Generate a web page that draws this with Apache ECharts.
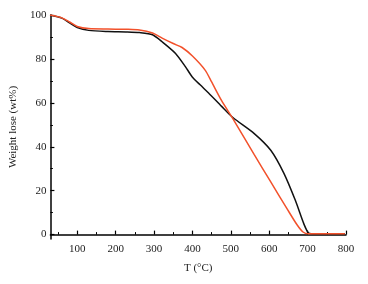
<!DOCTYPE html>
<html>
<head>
<meta charset="utf-8">
<script src="https://cdn.jsdelivr.net/npm/echarts@6/dist/echarts.min.js"></script>
<style>html,body{margin:0;padding:0;background:#fff;}#c{width:368px;height:284px;}</style>
</head>
<body>
<div id="c"></div>
<script>
var xMajorTicks = [100, 200, 300, 400, 500, 600, 700, 800];
var xMinorTicks = [50, 150, 250, 350, 450, 550, 650, 750];
var yMajorTicks = [0, 20, 40, 60, 80, 100];
var yMinorTicks = [10, 30, 50, 70, 90];

var blackT = [29, 60, 80, 100, 130, 180, 230, 262, 296, 321, 356, 382, 399, 420, 442, 476, 506, 561, 604, 638, 668, 690, 703, 720, 797];
var blackW = [100, 98.6, 96.4, 94.3, 93.0, 92.5, 92.3, 92.0, 91.0, 87.8, 82.5, 76.4, 71.9, 68.2, 64.5, 58.4, 53.2, 46.0, 38.4, 28.0, 15.6, 5.0, 0.7, 0.4, 0.4];

var redT = [29, 60, 80, 100, 130, 180, 230, 262, 296, 321, 350, 373, 400, 433, 450, 476, 506, 561, 604, 647, 672, 688, 702, 720, 797];
var redW = [100, 98.7, 96.8, 94.8, 93.8, 93.6, 93.5, 93.2, 91.8, 89.5, 87.0, 85.2, 81.3, 74.9, 69.5, 61.0, 52.6, 36.4, 24.0, 11.6, 4.6, 1.2, 0.4, 0.4, 0.4];

function pairs(xs, ys) { return xs.map(function (x, i) { return [x, ys[i]]; }); }

var font = 'Liberation Serif';
var chart = echarts.init(document.getElementById('c'));
chart.setOption({
  animation: false,
  grid: { left: 46, right: 22, top: 15, bottom: 45 },
  xAxis: [{
    type: 'value', min: 30, max: 800,
    name: 'T (\u00B0C)', nameLocation: 'middle', nameGap: 24,
    nameTextStyle: { fontFamily: font, fontSize: 11, color: '#222' },
    axisLine: { lineStyle: { color: '#000', width: 1.5 } },
    axisTick: { inside: true, length: 4, customValues: xMajorTicks, lineStyle: { color: '#000', width: 1.2 } },
    axisLabel: { customValues: xMajorTicks, fontFamily: font, fontSize: 11, color: '#222', margin: 5 },
    splitLine: { show: false }
  }, {
    type: 'value', min: 30, max: 800, position: 'bottom',
    axisLine: { show: false },
    axisTick: { inside: true, length: 2.5, customValues: xMinorTicks, lineStyle: { color: '#000', width: 1 } },
    axisLabel: { show: false },
    splitLine: { show: false }
  }],
  yAxis: [{
    type: 'value', min: -2, max: 100,
    name: 'Weight lose (wt%)', nameLocation: 'middle', nameGap: 30,
    nameTextStyle: { fontFamily: font, fontSize: 11, color: '#222' },
    axisLine: { lineStyle: { color: '#000', width: 1.5 } },
    axisTick: { inside: true, length: 4, customValues: yMajorTicks, lineStyle: { color: '#000', width: 1.2 } },
    axisLabel: { customValues: yMajorTicks, fontFamily: font, fontSize: 11, color: '#222', margin: 4 },
    splitLine: { show: false }
  }, {
    type: 'value', min: -2, max: 100, position: 'left',
    axisLine: { show: false },
    axisTick: { inside: true, length: 2.5, customValues: yMinorTicks, lineStyle: { color: '#000', width: 1 } },
    axisLabel: { show: false },
    splitLine: { show: false }
  }],
  series: [{
    type: 'line', xAxisIndex: 0, yAxisIndex: 0, data: pairs(blackT, blackW),
    smooth: 0.25, showSymbol: false, lineStyle: { color: '#111', width: 1.5 }
  }, {
    type: 'line', xAxisIndex: 0, yAxisIndex: 0, data: pairs(redT, redW),
    smooth: 0.25, showSymbol: false, lineStyle: { color: '#f2512b', width: 1.5 }
  }]
});
</script>
</body>
</html>
